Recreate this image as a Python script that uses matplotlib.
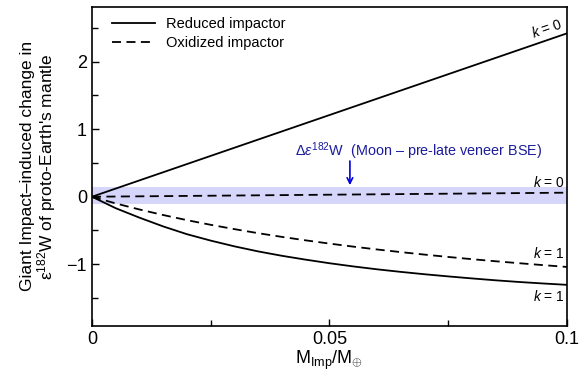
import numpy as np
import matplotlib.pyplot as plt

plt.rcParams['font.family'] = ['Liberation Sans', 'DejaVu Sans']
plt.rcParams['mathtext.fontset'] = 'custom'
plt.rcParams['mathtext.rm'] = 'Liberation Sans'
plt.rcParams['mathtext.it'] = 'Liberation Sans:italic'

# impactor mass fraction M_Imp / M_Earth
mass_frac = [0, 0.005, 0.01, 0.015, 0.02, 0.025, 0.03, 0.035, 0.04, 0.045, 0.05,
             0.055, 0.06, 0.065, 0.07, 0.075, 0.08, 0.085, 0.09, 0.095, 0.1]

# change in eps182W of proto-Earth mantle
reduced_k0 = [0, 0.121, 0.242, 0.363, 0.484, 0.605, 0.726, 0.847, 0.968, 1.089, 1.21,
              1.331, 1.452, 1.573, 1.694, 1.815, 1.936, 2.057, 2.178, 2.299, 2.42]
reduced_k1 = [0, -0.17, -0.31, -0.44, -0.555, -0.65, -0.735, -0.81, -0.875, -0.932, -0.985,
              -1.032, -1.075, -1.113, -1.148, -1.18, -1.21, -1.238, -1.263, -1.285, -1.305]
oxidized_k0 = [0, 0.003, 0.006, 0.009, 0.012, 0.015, 0.018, 0.021, 0.024, 0.027, 0.03,
               0.033, 0.036, 0.039, 0.042, 0.045, 0.048, 0.051, 0.054, 0.057, 0.06]
oxidized_k1 = [0, -0.099, -0.189, -0.271, -0.347, -0.416, -0.48, -0.54, -0.595, -0.646, -0.694,
               -0.739, -0.781, -0.82, -0.857, -0.892, -0.925, -0.956, -0.985, -1.013, -1.04]

# Moon - pre-late veneer BSE band
band_lo, band_hi = -0.11, 0.14

fig = plt.figure(figsize=(5.81, 3.75), dpi=100)
ax = fig.add_axes([0.1583, 0.1315, 0.8176, 0.8498])

ax.axhspan(band_lo, band_hi, color='#d6d6fa', lw=0, zorder=0)

ax.plot(mass_frac, reduced_k0, color='black', lw=1.3, label='Reduced impactor')
ax.plot(mass_frac, oxidized_k0, color='black', lw=1.3, ls=(0, (5, 3)), label='Oxidized impactor')
ax.plot(mass_frac, reduced_k1, color='black', lw=1.3)
ax.plot(mass_frac, oxidized_k1, color='black', lw=1.3, ls=(0, (5, 3)))

ax.set_xlim(0, 0.1)
ax.set_ylim(-1.91, 2.81)
ax.set_xticks([0, 0.05, 0.1])
ax.set_xticklabels(['0', '0.05', '0.1'])
ax.set_xticks([0.025, 0.075], minor=True)
ax.set_yticks([-1, 0, 1, 2])
ax.set_yticklabels(['\u22121', '0', '1', '2'])
ax.set_yticks([-1.5, -0.5, 0.5, 1.5, 2.5], minor=True)
ax.tick_params(which='both', direction='in', top=False, right=False, labelsize=13, width=1)
ax.tick_params(which='major', length=5)
ax.tick_params(which='minor', length=4)
for s in ax.spines.values():
    s.set_linewidth(1.2)

ax.set_xlabel(r'M$_{\rm Imp}$/M$_{\oplus}$', fontsize=13, labelpad=1)
ax.set_ylabel('Giant Impact\u2013induced change in\n' + r'$\rm\varepsilon^{182}$W of proto-Earth' + "'s mantle",
              fontsize=12.5, linespacing=1.0, labelpad=6)

ax.legend(loc='upper left', frameon=False, fontsize=10.5, handlelength=3.0,
          handletextpad=0.7, borderaxespad=0.3, labelspacing=0.35, bbox_to_anchor=(0.02, 1.0))

# curve labels
ax.text(0.0995, 2.46, r'$k$ = 0', ha='right', va='bottom', fontsize=10, rotation=19,
        rotation_mode='anchor')
ax.text(0.0995, 0.1, r'$k$ = 0', ha='right', va='bottom', fontsize=10)
ax.text(0.0995, -0.95, r'$k$ = 1', ha='right', va='bottom', fontsize=10)
ax.text(0.0995, -1.36, r'$k$ = 1', ha='right', va='top', fontsize=10)

ax.text(0.0427, 0.68, r'$\Delta\varepsilon^{182}$W  (Moon ' + '\u2013' + ' pre-late veneer BSE)',
        color='#1c1c9c', fontsize=10.4, ha='left', va='center')
ax.annotate('', xy=(0.0543, 0.13), xytext=(0.0543, 0.57),
            arrowprops=dict(arrowstyle='->', color='#0000dd', lw=1.2))

fig.savefig('out.png', dpi=100)
